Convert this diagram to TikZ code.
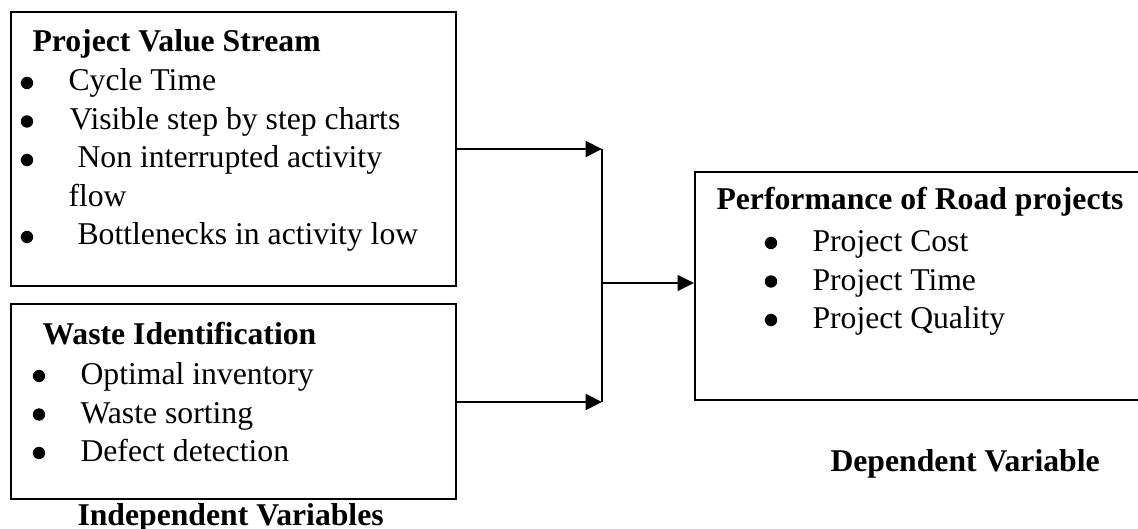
\documentclass[tikz,border=0pt]{standalone}
\usepackage{fontspec}
\setmainfont{Liberation Serif}
\usetikzlibrary{arrows.meta,fit}
\begin{document}
\begin{tikzpicture}[x=0.3786pt,y=-0.3786pt,
  box/.style={draw, line width=0.8pt, inner sep=0pt},
  txt/.style={anchor=base west, inner sep=0pt, font=\fontsize{12pt}{14pt}\selectfont},
  ttl/.style={anchor=base west, inner sep=0pt, font=\fontsize{12pt}{14pt}\selectfont\bfseries},
  arr/.style={line width=0.8pt, -{Triangle[length=6.2pt,width=6pt]}},
  lin/.style={line width=0.8pt},
  bul/.style={fill=black}]
\useasboundingbox (0,0) rectangle (1138,529);
\clip (0,0) rectangle (1138,529);

% boxes
\node[box, fit={(11,12) (456,286)}] (b1) {};
\node[box, fit={(11,304) (456,499)}] (b2) {};
\node[box, fit={(695,172) (1150,400)}] (b3) {};

% box 1 text
\node[ttl] (t1) at (32,52) {Project Value Stream};
\node[txt] (t1a) at (68,91) {Cycle Time};
\node[txt] (t1b) at (69,129.5) {Visible step by step charts};
\node[txt] (t1c) at (77,168) {Non interrupted activity};
\node[txt] (t1d) at (68,206.5) {flow};
\node[txt] (t1e) at (77,245) {Bottlenecks in activity low};
\fill[bul] (27,83) circle[radius=6.2];
\fill[bul] (27,121.5) circle[radius=6.2];
\fill[bul] (27,160) circle[radius=6.2];
\fill[bul] (27,237) circle[radius=6.2];

% box 2 text
\node[ttl] (t2) at (42,345) {Waste Identification};
\node[txt] (t2a) at (80,385) {Optimal inventory};
\node[txt] (t2b) at (80,423.5) {Waste sorting};
\node[txt] (t2c) at (80,462) {Defect detection};
\fill[bul] (39,376) circle[radius=6.2];
\fill[bul] (39,414.5) circle[radius=6.2];
\fill[bul] (39,453) circle[radius=6.2];

% box 3 text
\node[ttl] (t3) at (716,210) {Performance of Road projects};
\node[txt] (t3a) at (812,252) {Project Cost};
\node[txt] (t3b) at (812,290.5) {Project Time};
\node[txt] (t3c) at (812,329) {Project Quality};
\fill[bul] (771,243) circle[radius=6.2];
\fill[bul] (771,281.5) circle[radius=6.2];
\fill[bul] (771,320) circle[radius=6.2];

% captions
\node[ttl] (iv) at (77,525) {Independent Variables};
\node[ttl] (dv) at (830,472) {Dependent Variable};

% connectors
\coordinate (j1) at (602,149);
\coordinate (j2) at (602,402);
\coordinate (jm) at (602,283);
\draw[arr] (j1 -| b1.east) -- (j1);
\draw[arr] (j2 -| b2.east) -- (j2);
\draw[lin] (j1) -- (j2);
\draw[arr] (jm) -- (jm -| b3.west);
\end{tikzpicture}
\end{document}
